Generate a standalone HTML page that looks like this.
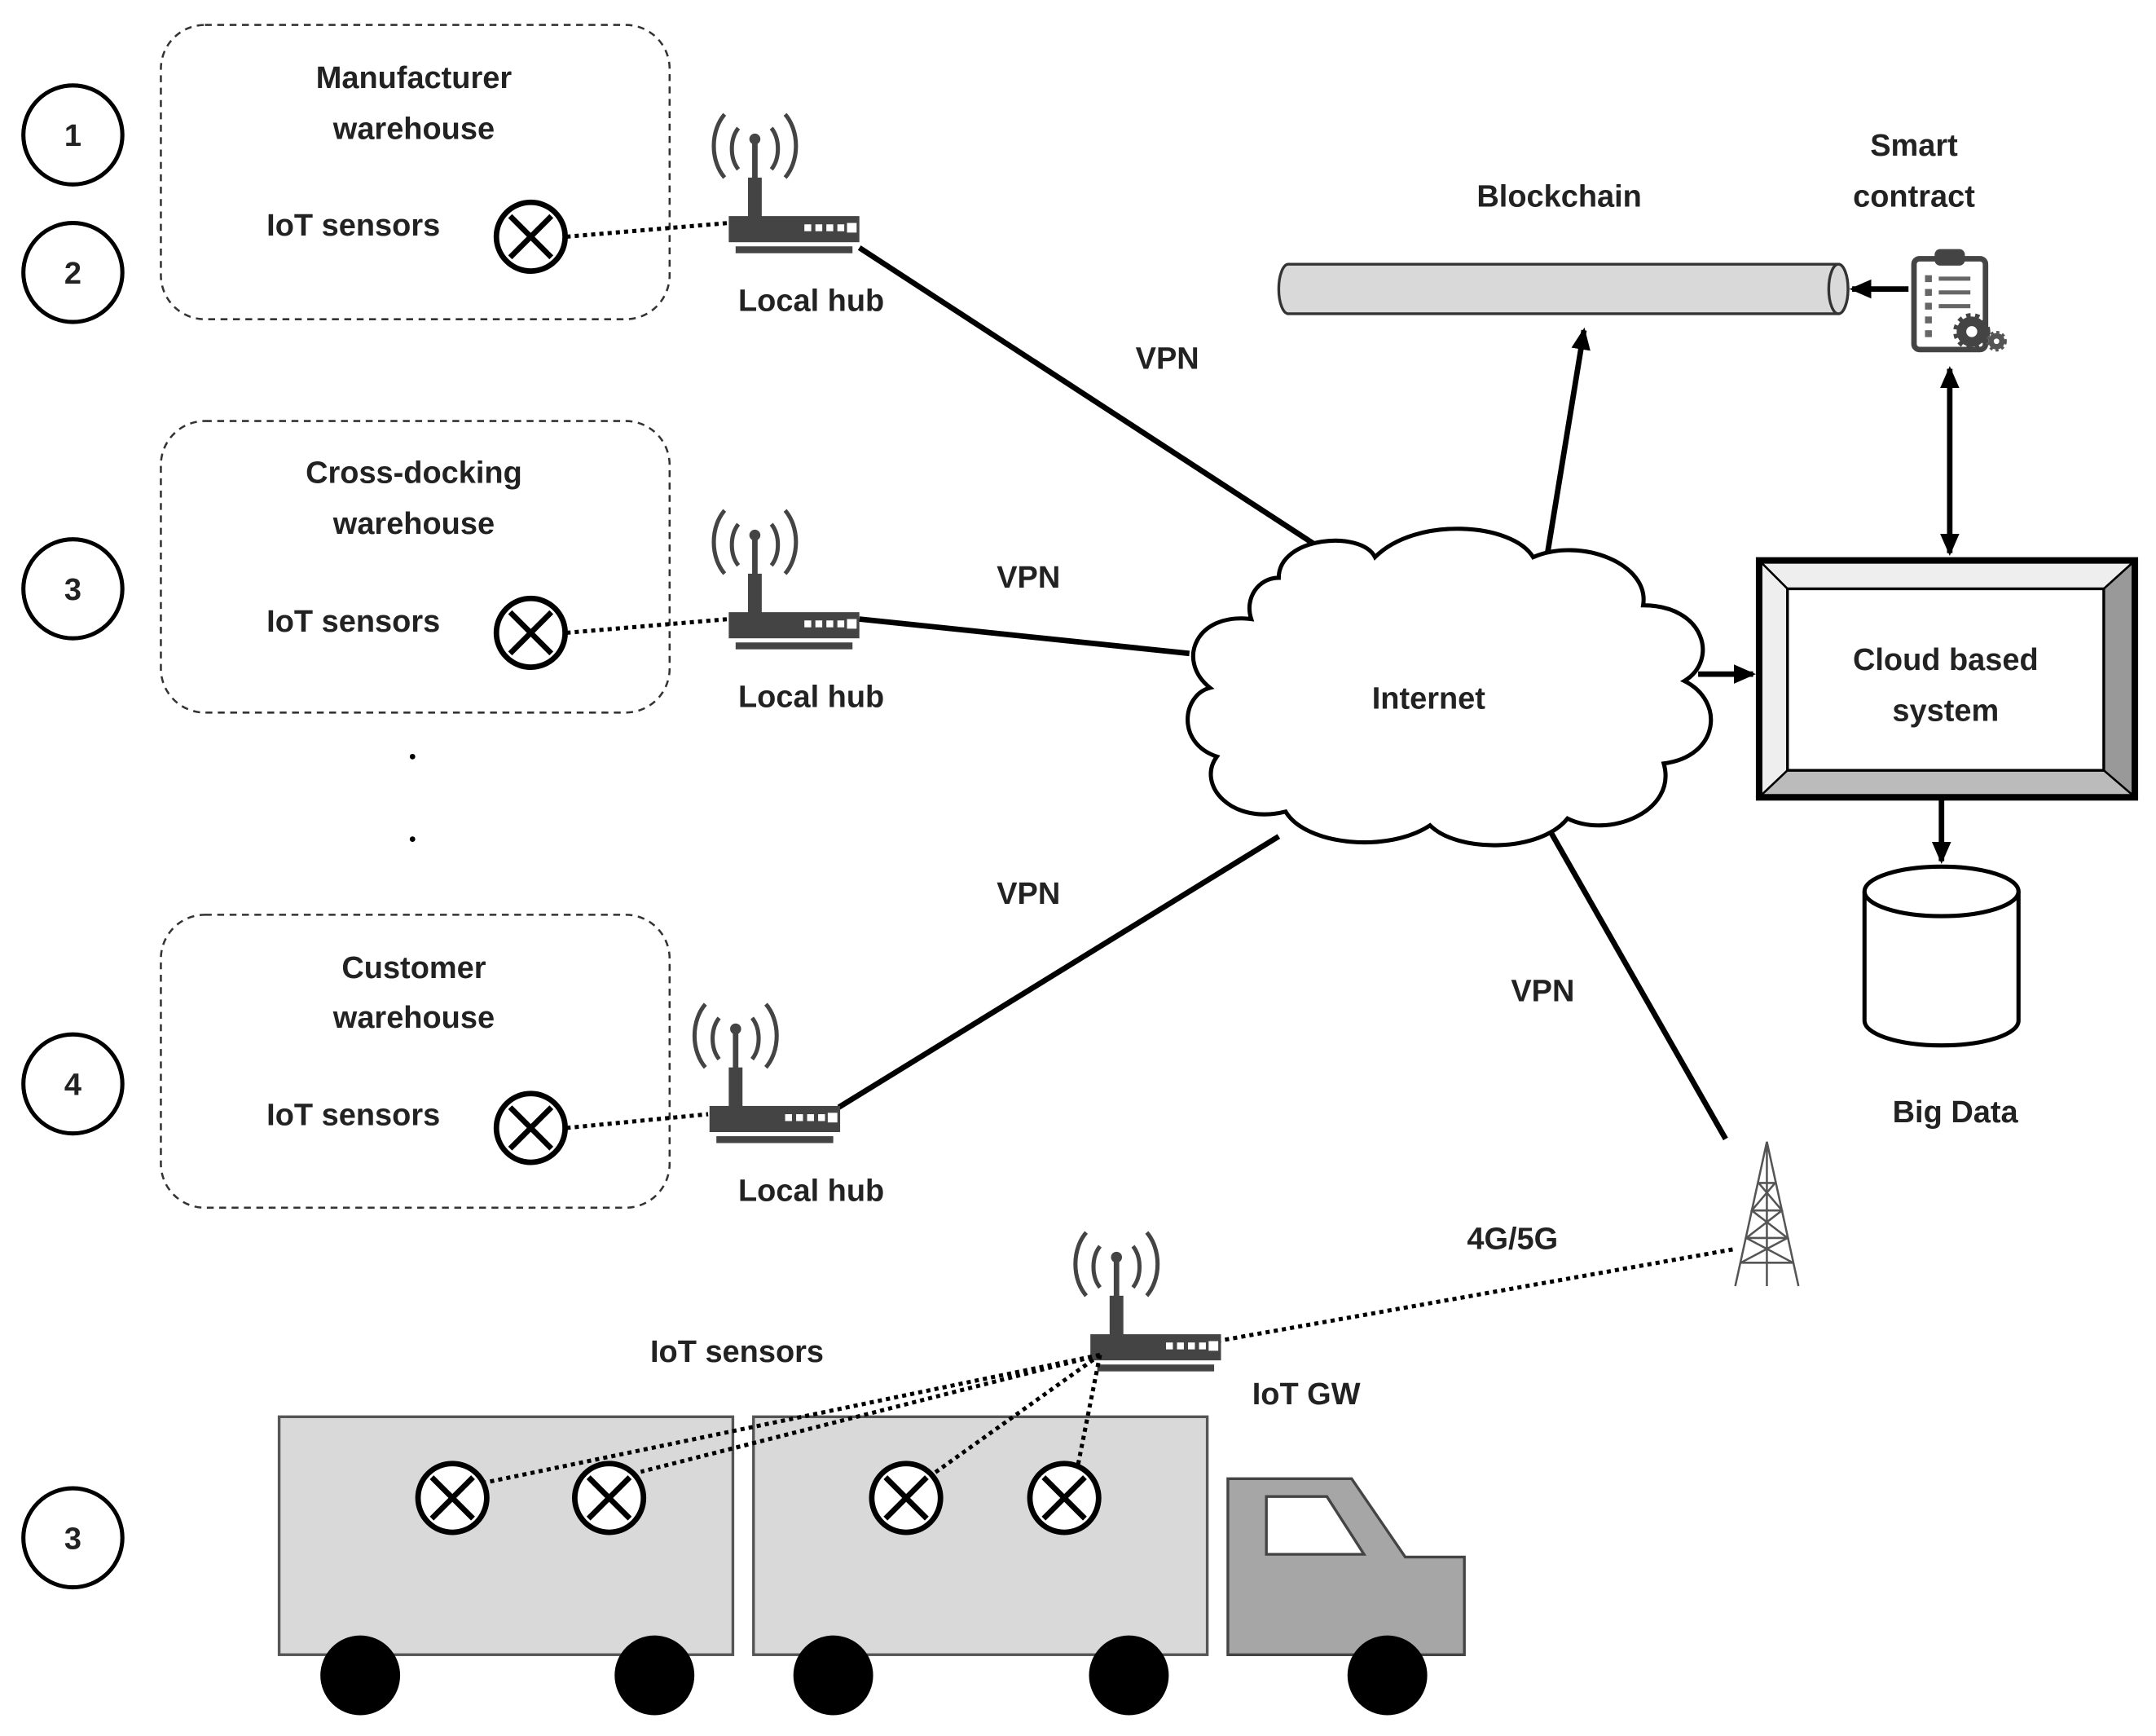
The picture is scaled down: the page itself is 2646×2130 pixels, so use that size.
<!DOCTYPE html>
<html><head><meta charset="utf-8"><style>html,body{margin:0;padding:0;background:#fff}svg{display:block}text{font-family:"Liberation Sans",sans-serif;font-weight:bold;font-size:22.5px;fill:#222}</style></head><body>
<svg width="2646" height="2130" viewBox="0 0 1568 1262" xmlns="http://www.w3.org/2000/svg">
<defs>
<g id="router">
<path d="M-12,-82 a14,20 0 0 0 0,30 M12,-82 a14,20 0 0 1 0,30 M-22,-92 a22,30 0 0 0 0,46 M22,-92 a22,30 0 0 1 0,46" fill="none" stroke="#444" stroke-width="3"/>
<circle cx="0" cy="-74" r="4" fill="#444"/>
<rect x="-2" y="-74" width="4" height="30" fill="#444"/>
<rect x="-5" y="-46" width="10" height="30" fill="#444"/>
<rect x="-19" y="-18" width="95" height="19" fill="#444"/>
<rect x="36" y="-12" width="5" height="5" fill="#fff"/><rect x="44" y="-12" width="5" height="5" fill="#fff"/><rect x="52" y="-12" width="5" height="5" fill="#fff"/><rect x="60" y="-12" width="5" height="5" fill="#fff"/><rect x="67" y="-13" width="7" height="7" fill="#fff"/>
<rect x="-14" y="4" width="85" height="5" fill="#444"/>
</g>
<g id="sensor"><circle r="25" fill="#fff" stroke="#000" stroke-width="4"/><path d="M-15,-15 L15,15 M15,-15 L-15,15" stroke="#000" stroke-width="4"/></g>
<marker id="ah2" markerWidth="16" markerHeight="16" refX="14" refY="8" orient="auto-start-reverse" markerUnits="userSpaceOnUse"><path d="M0,1 L16,8 L0,15 z" fill="#000"/></marker>
</defs>
<g fill="#fff" stroke="#000" stroke-width="3">
<circle cx="53" cy="98" r="36"/><circle cx="53" cy="198" r="36"/><circle cx="53" cy="428" r="36"/><circle cx="53" cy="788" r="36"/><circle cx="53" cy="1118" r="36"/></g>
<g fill="none" stroke="#333" stroke-width="1.5" stroke-dasharray="5,4">
<rect x="117" y="18" width="370" height="214" rx="32"/><rect x="117" y="306" width="370" height="212" rx="32"/><rect x="117" y="665" width="370" height="213" rx="32"/></g>
<circle cx="300" cy="550" r="2" fill="#000"/><circle cx="300" cy="610" r="2" fill="#000"/>
<g stroke="#000" stroke-width="3" stroke-dasharray="3,3" fill="none">
<path d="M412,172 L530,162"/><path d="M412,460 L530,450"/><path d="M412,820 L515,810"/>
<path d="M885,975 L1262,908"/>
</g>
<g stroke="#000" stroke-width="4" fill="none">
<path d="M625,180 L975,408"/><path d="M625,450 L865,475"/><path d="M610,805 L930,608"/><path d="M1125,600 L1255,828"/>
<path d="M1125,405 L1152,240" marker-end="url(#ah2)"/>
<path d="M1235,490 L1275,490" marker-end="url(#ah2)"/>
<path d="M1388,210 L1347,210" marker-end="url(#ah2)"/>
<path d="M1418,268 L1418,402" marker-start="url(#ah2)" marker-end="url(#ah2)"/>
<path d="M1412,580 L1412,626" marker-end="url(#ah2)"/>
</g>
<use href="#router" x="549" y="175"/><use href="#router" x="549" y="463"/><use href="#router" x="535" y="822"/><use href="#router" x="812" y="988"/>
<g><use href="#sensor" x="386" y="172"/><use href="#sensor" x="386" y="460"/><use href="#sensor" x="386" y="820"/></g>
<path d="M930,420 C930,390 990,385 1000,405 C1030,375 1100,380 1115,405 C1150,390 1200,410 1195,440 C1240,440 1250,480 1225,495 C1255,510 1250,550 1210,555 C1220,590 1170,610 1140,595 C1120,620 1060,620 1040,600 C1010,620 950,615 935,590 C895,600 870,570 885,550 C855,540 860,505 880,500 C855,480 870,445 910,450 C905,435 915,420 930,420 Z" fill="#fff" stroke="#000" stroke-width="3"/>
<path d="M937,192 L1337,192 A7,18 0 0 1 1337,228 L937,228 A7,18 0 0 1 937,192 Z" fill="#d9d9d9" stroke="#333" stroke-width="2"/>
<ellipse cx="1337" cy="210" rx="7" ry="18" fill="#d9d9d9" stroke="#333" stroke-width="2"/>
<g>
<rect x="1392" y="188" width="52" height="66" rx="4" fill="#fff" stroke="#444" stroke-width="4"/>
<rect x="1407" y="181" width="22" height="12" rx="4" fill="#444"/>
<g fill="#666"><rect x="1400" y="200" width="5" height="5"/><rect x="1410" y="201" width="23" height="3"/><rect x="1400" y="210" width="5" height="5"/><rect x="1410" y="211" width="23" height="3"/><rect x="1400" y="220" width="5" height="5"/><rect x="1410" y="221" width="23" height="3"/><rect x="1400" y="230" width="5" height="5"/><rect x="1400" y="240" width="5" height="5"/></g>
<circle cx="1434" cy="241" r="11" fill="#444" stroke="#444" stroke-width="5" stroke-dasharray="3,3"/><circle cx="1434" cy="241" r="4" fill="#fff"/>
<circle cx="1452" cy="248" r="6" fill="#555" stroke="#555" stroke-width="3" stroke-dasharray="2,2"/><circle cx="1452" cy="248" r="2" fill="#fff"/>
</g>
<rect x="1279" y="407" width="274" height="173" fill="#fff" stroke="#000" stroke-width="4"/>
<polygon points="1281,409 1551,409 1530,428 1300,428" fill="#eee" stroke="#000" stroke-width="1.5"/>
<polygon points="1281,409 1300,428 1300,560 1281,578" fill="#eee" stroke="#000" stroke-width="1.5"/>
<polygon points="1551,409 1551,578 1530,560 1530,428" fill="#999" stroke="#000" stroke-width="1.5"/>
<polygon points="1281,578 1551,578 1530,560 1300,560" fill="#bbb" stroke="#000" stroke-width="1.5"/>
<rect x="1300" y="428" width="230" height="132" fill="#fff" stroke="#000" stroke-width="2"/>
<path d="M1356,648 L1356,742 A56,18 0 0 0 1468,742 L1468,648" fill="#fff" stroke="#000" stroke-width="3"/>
<ellipse cx="1412" cy="648" rx="56" ry="18" fill="#fff" stroke="#000" stroke-width="3"/>
<g stroke="#555" stroke-width="1.5" fill="none">
<path d="M1285,830 L1262,935 M1285,830 L1308,935 M1285,830 L1285,935"/>
<path d="M1279,860 L1291,860 M1274,880 L1296,880 M1270,900 L1300,900 M1266,918 L1304,918 M1279,860 L1296,880 L1270,900 L1304,918 M1291,860 L1274,880 L1300,900 L1266,918"/>
</g>
<rect x="203" y="1030" width="330" height="173" fill="#d9d9d9" stroke="#555" stroke-width="2"/>
<rect x="548" y="1030" width="330" height="173" fill="#d9d9d9" stroke="#555" stroke-width="2"/>
<path d="M893,1075 L983,1075 L1022,1132 L1065,1132 L1065,1203 L893,1203 Z" fill="#a6a6a6" stroke="#444" stroke-width="2"/>
<path d="M921,1088 L965,1088 L992,1130 L921,1130 Z" fill="#fff" stroke="#444" stroke-width="2"/>
<g fill="#000"><circle cx="262" cy="1218" r="29"/><circle cx="476" cy="1218" r="29"/><circle cx="606" cy="1218" r="29"/><circle cx="821" cy="1218" r="29"/><circle cx="1009" cy="1218" r="29"/></g>
<g stroke="#000" stroke-width="3" stroke-dasharray="3,3" fill="none">
<path d="M800,985 L352,1078 M800,985 L466,1070 M800,985 L678,1072 M800,985 L784,1065"/>
</g>
<use href="#sensor" x="329" y="1089"/><use href="#sensor" x="443" y="1089"/><use href="#sensor" x="659" y="1089"/><use href="#sensor" x="774" y="1089"/>
<g text-anchor="middle">
<text x="53" y="106">1</text><text x="53" y="206">2</text><text x="53" y="436">3</text><text x="53" y="796">4</text><text x="53" y="1126">3</text>
<text x="301" y="64">Manufacturer</text><text x="301" y="101">warehouse</text>
<text x="301" y="351">Cross-docking</text><text x="301" y="388">warehouse</text>
<text x="301" y="711">Customer</text><text x="301" y="747">warehouse</text>
<text x="257" y="171">IoT sensors</text><text x="257" y="459">IoT sensors</text><text x="257" y="818">IoT sensors</text>
<text x="590" y="226">Local hub</text><text x="590" y="514">Local hub</text><text x="590" y="873">Local hub</text>
<text x="849" y="268">VPN</text><text x="748" y="427">VPN</text><text x="748" y="657">VPN</text><text x="1122" y="728">VPN</text>
<text x="1134" y="150">Blockchain</text><text x="1392" y="113">Smart</text><text x="1392" y="150">contract</text>
<text x="1039" y="515">Internet</text><text x="1415" y="487">Cloud based</text><text x="1415" y="524">system</text>
<text x="1422" y="816">Big Data</text><text x="1100" y="908">4G/5G</text><text x="536" y="990">IoT sensors</text><text x="950" y="1021">IoT GW</text>
</g>
</svg>
</body></html>
